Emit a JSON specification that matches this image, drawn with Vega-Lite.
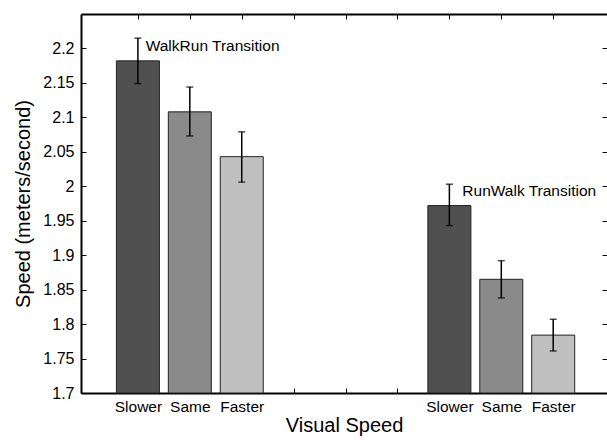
{
  "$schema": "https://vega.github.io/schema/vega-lite/v6.json",
  "width": 526,
  "height": 379,
  "autosize": {"type": "none"},
  "padding": {"left": 81, "top": 14, "right": 0, "bottom": 47},
  "background": "white",
  "config": {
    "view": {"stroke": null},
    "font": "Liberation Sans",
    "axis": {
      "domainColor": "#000",
      "domainWidth": 2,
      "tickColor": "#000",
      "tickWidth": 1,
      "labelColor": "#000",
      "titleColor": "#000",
      "labelFont": "Liberation Sans",
      "titleFont": "Liberation Sans",
      "titleFontWeight": "normal",
      "grid": false
    }
  },
  "data": {
    "values": [
      {"group": "WalkRun", "cond": "Slower", "pos": 1, "mean": 2.182, "lo": 2.149, "hi": 2.215},
      {"group": "WalkRun", "cond": "Same", "pos": 2, "mean": 2.108, "lo": 2.073, "hi": 2.144},
      {"group": "WalkRun", "cond": "Faster", "pos": 3, "mean": 2.043, "lo": 2.006, "hi": 2.079},
      {"group": "RunWalk", "cond": "Slower", "pos": 7, "mean": 1.972, "lo": 1.943, "hi": 2.003},
      {"group": "RunWalk", "cond": "Same", "pos": 8, "mean": 1.865, "lo": 1.838, "hi": 1.892},
      {"group": "RunWalk", "cond": "Faster", "pos": 9, "mean": 1.784, "lo": 1.761, "hi": 1.807}
    ]
  },
  "layer": [
    {
      "mark": {"type": "bar", "size": 43, "stroke": "#222", "strokeWidth": 1},
      "encoding": {
        "x": {
          "field": "pos", "type": "quantitative",
          "scale": {"domain": [0, 9.94], "nice": false, "zero": false},
          "axis": {
            "orient": "bottom",
            "values": [1, 2, 3, 4, 5, 6, 7, 8, 9],
            "tickSize": -5,
            "labelPadding": 11,
            "labelFontSize": 15.5,
            "labelExpr": "datum.value == 1 || datum.value == 7 ? 'Slower' : datum.value == 2 || datum.value == 8 ? 'Same' : datum.value == 3 || datum.value == 9 ? 'Faster' : ''",
            "title": "Visual Speed",
            "titleFontSize": 20,
            "titlePadding": 1
          }
        },
        "y": {
          "field": "mean", "type": "quantitative",
          "scale": {"domain": [1.7, 2.25], "nice": false, "zero": false},
          "axis": {
            "orient": "left",
            "values": [1.7, 1.75, 1.8, 1.85, 1.9, 1.95, 2, 2.05, 2.1, 2.15, 2.2],
            "format": "~g",
            "tickSize": -5,
            "labelPadding": 12,
            "labelFontSize": 16,
            "title": "Speed (meters/second)",
            "titleFontSize": 20,
            "titlePadding": 9
          }
        },
        "y2": {"datum": 1.7},
        "color": {
          "field": "cond", "type": "nominal",
          "scale": {"domain": ["Slower", "Same", "Faster"], "range": ["#505050", "#8a8a8a", "#c0c0c0"]},
          "legend": null
        }
      }
    },
    {
      "mark": {"type": "rule", "color": "#000", "strokeWidth": 1.5},
      "encoding": {
        "x": {
          "field": "pos", "type": "quantitative",
          "axis": {
            "orient": "top",
            "values": [1, 2, 3, 4, 5, 6, 7, 8, 9],
            "tickSize": -5,
            "labels": false,
            "title": null
          }
        },
        "y": {
          "field": "lo", "type": "quantitative",
          "axis": {
            "orient": "right",
            "values": [1.7, 1.75, 1.8, 1.85, 1.9, 1.95, 2, 2.05, 2.1, 2.15, 2.2],
            "tickSize": -5,
            "domain": false,
            "labels": false,
            "title": null
          }
        },
        "y2": {"field": "hi"}
      }
    },
    {
      "mark": {"type": "tick", "orient": "horizontal", "color": "#000", "size": 7, "thickness": 1.5},
      "encoding": {
        "x": {"field": "pos", "type": "quantitative", "axis": null},
        "y": {"field": "lo", "type": "quantitative", "axis": null}
      }
    },
    {
      "mark": {"type": "tick", "orient": "horizontal", "color": "#000", "size": 7, "thickness": 1.5},
      "encoding": {
        "x": {"field": "pos", "type": "quantitative", "axis": null},
        "y": {"field": "hi", "type": "quantitative", "axis": null}
      }
    },
    {
      "data": {
        "values": [
          {"label": "WalkRun Transition", "tx": 1.15, "ty": 2.203},
          {"label": "RunWalk Transition", "tx": 7.25, "ty": 1.993}
        ]
      },
      "mark": {"type": "text", "align": "left", "baseline": "middle", "fontSize": 15.5, "font": "Liberation Sans", "color": "#000"},
      "encoding": {
        "x": {"field": "tx", "type": "quantitative", "axis": null},
        "y": {"field": "ty", "type": "quantitative", "axis": null},
        "text": {"field": "label"}
      }
    }
  ],
  "resolve": {"axis": {"x": "independent", "y": "independent"}}
}
